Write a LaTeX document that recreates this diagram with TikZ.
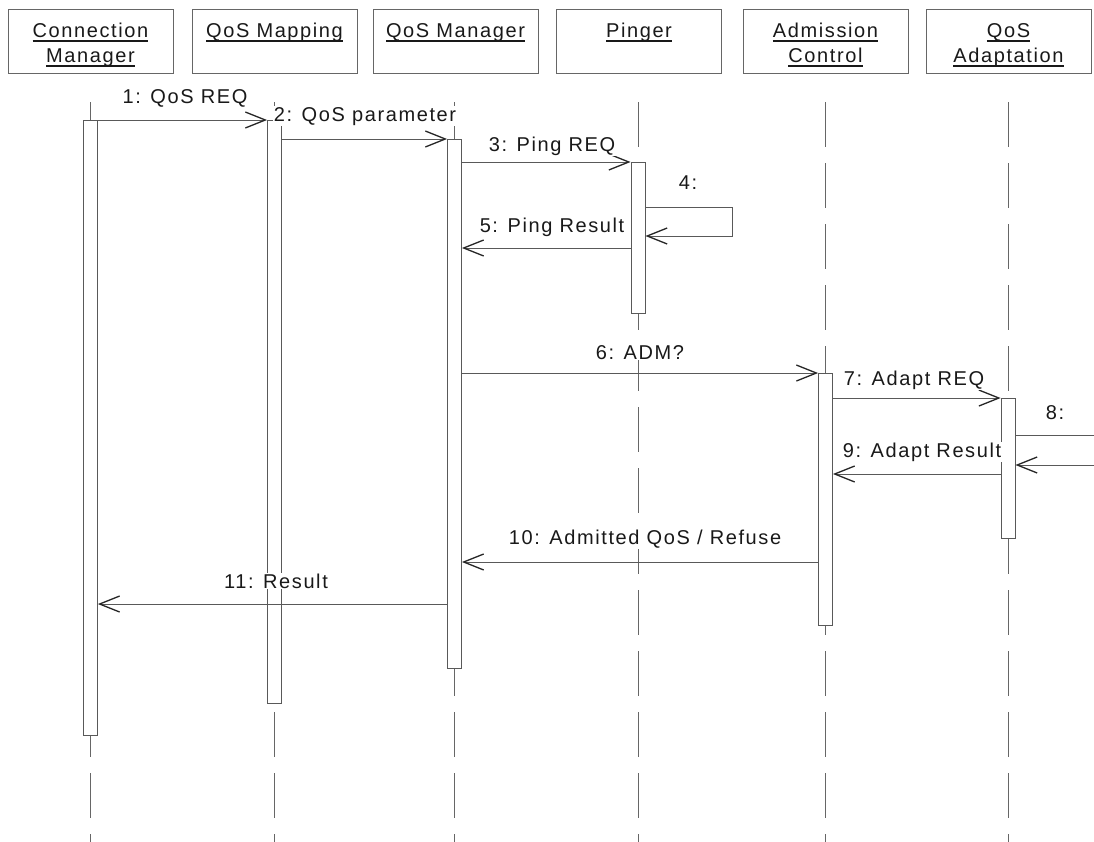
\documentclass[tikz,border=0pt]{standalone}
\usepackage{fontspec}
\setmainfont{Liberation Sans}[LetterSpace=8]
\usetikzlibrary{arrows.meta}
\newcommand\ulab[1]{\setbox0\hbox{#1}\rlap{\rule[-4.5pt]{\wd0}{1.3pt}}\box0}
\begin{document}
\begin{tikzpicture}[x=1pt,y=-1pt,
  pbox/.style={draw=black!60, line width=0.9pt, minimum width=165pt, minimum height=64pt, inner sep=0pt, anchor=north},
  plab/.style={anchor=base, inner sep=0pt, text=black!90, font=\fontsize{20}{24}\selectfont},
  mlab/.style={anchor=base, inner sep=1pt, fill=white, text=black!90, font=\fontsize{20}{24}\selectfont},
  life/.style={draw=black!60, line width=0.8pt, dash pattern=on 45pt off 16pt},
  act/.style={draw=black!65, fill=white, line width=0.8pt, minimum width=14pt, inner sep=0pt, anchor=north},
  msg/.style={draw=black!65, line width=0.8pt, -{Straight Barb[length=20pt,width=16pt,line width=1.3pt,color=black!85]}}
]
\path[use as bounding box, fill=white] (0,0) rectangle (1094,841);
\clip (0,0) rectangle (1094,841);

% participants
\node[pbox] (cm)  at (90.5,9) {};
\node[pbox] (qm)  at (274.5,9) {};
\node[pbox] (qmg) at (455.5,9) {};
\node[pbox] (pg)  at (639,9) {};
\node[pbox] (ad)  at (825.5,9) {};
\node[pbox] (ada) at (1008.5,9) {};

\node[plab] (cmL1)  at (90.5,37) {\ulab{Connection}};
\node[plab] (cmL2)  at (90.5,62) {\ulab{Manager}};
\node[plab] (qmL)   at (274.5,37) {\ulab{QoS Mapping}};
\node[plab] (qmgL)  at (455.5,37) {\ulab{QoS Manager}};
\node[plab] (pgL)   at (639,37) {\ulab{Pinger}};
\node[plab] (adL1)  at (825.5,37) {\ulab{Admission}};
\node[plab] (adL2)  at (825.5,62) {\ulab{Control}};
\node[plab] (adaL1) at (1008.5,37) {\ulab{QoS}};
\node[plab] (adaL2) at (1008.5,62) {\ulab{Adaptation}};

% lifelines
\foreach \x in {90.5,274.5,454.5,638,825.5,1008}
  \draw[life] (\x,102) -- (\x,850);

% activation boxes
\node[act, minimum height=615pt] (cmA)  at (90.5,120) {};
\node[act, minimum height=583pt] (qmA)  at (274.5,120) {};
\node[act, minimum height=529pt] (qmgA) at (454.5,139) {};
\node[act, minimum height=151pt] (pA)   at (638,162) {};
\node[act, minimum height=252pt] (adA)  at (825.5,373) {};
\node[act, minimum height=140pt] (adaA) at (1008,398) {};

% messages
\draw[msg] (cmA.east |- qmA.north) -- (qmA.north west);
\draw[msg] (qmA.east |- qmgA.north) -- (qmgA.north west);
\draw[msg] (qmgA.east |- pA.north) -- (pA.north west);
\coordinate (s4a) at (732,207);
\coordinate (s4b) at (732,236);
\draw[msg] (pA.east |- s4a) -- (s4a) -- (s4b) -- (pA.east |- s4b);
\coordinate (m5) at (0,248);
\draw[msg] (pA.west |- m5) -- (qmgA.east |- m5);
\draw[msg] (qmgA.east |- adA.north) -- (adA.north west);
\draw[msg] (adA.east |- adaA.north) -- (adaA.north west);
\coordinate (s8a) at (1115,435);
\coordinate (s8b) at (1115,465);
\draw[msg] (adaA.east |- s8a) -- (s8a) -- (s8b) -- (adaA.east |- s8b);
\coordinate (m9) at (0,474);
\draw[msg] (adaA.west |- m9) -- (adA.east |- m9);
\coordinate (m10) at (0,562);
\draw[msg] (adA.west |- m10) -- (qmgA.east |- m10);
\coordinate (m11) at (0,604);
\draw[msg] (qmgA.west |- m11) -- (cmA.east |- m11);

% message labels
\node[mlab] (l1)  at (185,103) {1: QoS REQ};
\node[mlab] (l2)  at (365,121) {2: QoS parameter};
\node[mlab] (l3)  at (552,151) {3: Ping REQ};
\node[mlab] (l4)  at (688,189) {4:};
\node[mlab] (l5)  at (552,232) {5: Ping Result};
\node[mlab] (l6)  at (640,359) {6: ADM?};
\node[mlab] (l7)  at (914,385) {7: Adapt REQ};
\node[mlab] (l8)  at (1055,419) {8:};
\node[mlab] (l9)  at (922,457) {9: Adapt Result};
\node[mlab] (l10) at (645,544) {10: Admitted QoS / Refuse};
\node[mlab] (l11) at (276,588) {11: Result};
\end{tikzpicture}
\end{document}
